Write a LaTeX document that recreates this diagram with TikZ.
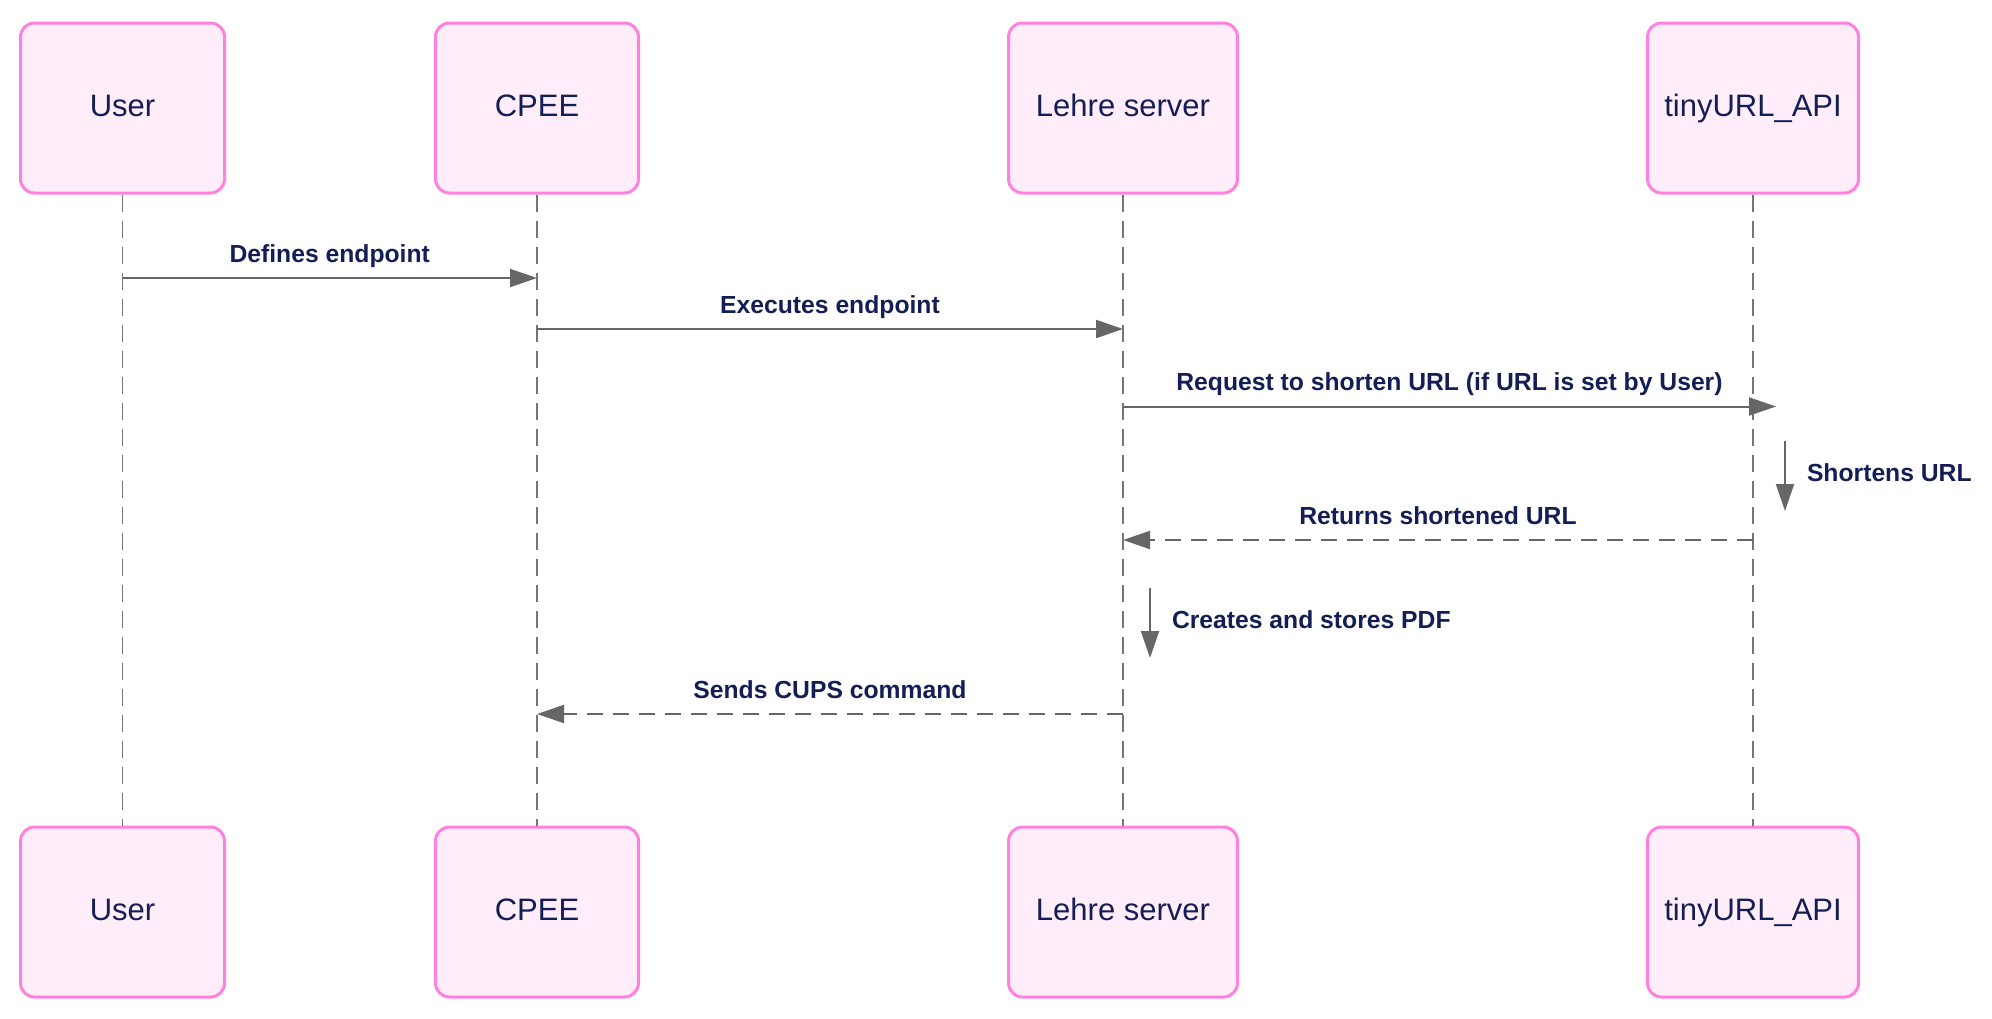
\documentclass[tikz,border=0pt]{standalone}
\usepackage{fontspec}
\setmainfont{Liberation Sans}
\usetikzlibrary{arrows.meta}
\definecolor{actorfill}{RGB}{255,238,249}
\definecolor{actorline}{RGB}{255,128,223}
\definecolor{msgtext}{RGB}{19,30,86}
\definecolor{msgline}{RGB}{102,102,102}

\begin{document}
\begin{tikzpicture}[x=1pt, y=-1pt,
    actor/.style={draw=actorline, fill=actorfill, line width=3pt, rounded corners=14pt,
      minimum height=170pt, text height=22pt, text depth=5pt, text=msgtext,
      font=\fontsize{31}{37}\selectfont},
    lifeline/.style={draw=msgline!90, line width=1.5pt, dash pattern=on 17pt off 9pt},
    msg/.style={draw=msgline, line width=2pt, -{Triangle[length=27pt, width=18pt]}},
    reply/.style={msg, dash pattern=on 16pt off 10pt},
    msglabel/.style={text=msgtext, inner sep=0pt, font=\bfseries\fontsize{24.7}{30}\selectfont}]
  \useasboundingbox (0,0) rectangle (1992,1018);
  % actors
  \node [actor, minimum width=204pt] (user) at (122.5,108) {User};
  \node [actor, minimum width=203pt] (cpee) at (537,108) {CPEE};
  \node [actor, minimum width=229pt] (lehre) at (1123,108) {Lehre server};
  \node [actor, minimum width=211pt] (tiny) at (1753,108) {tinyURL\_API};
  \node [actor, minimum width=204pt] (user2) at (122.5,912) {User};
  \node [actor, minimum width=203pt] (cpee2) at (537,912) {CPEE};
  \node [actor, minimum width=229pt] (lehre2) at (1123,912) {Lehre server};
  \node [actor, minimum width=211pt] (tiny2) at (1753,912) {tinyURL\_API};
  \draw [lifeline] (user) -- (user2);
  \draw [lifeline] (cpee) -- (cpee2);
  \draw [lifeline] (lehre) -- (lehre2);
  \draw [lifeline] (tiny) -- (tiny2);
  % message rows
  \coordinate (r1) at (0,278);
  \coordinate (r2) at (0,329);
  \coordinate (r3) at (0,406.5);
  \coordinate (r5) at (0,540);
  \coordinate (r7) at (0,714);
  \coordinate (shortA) at (1785,441);
  \coordinate (shortB) at (1785,511);
  \coordinate (pdfA) at (1150,588);
  \coordinate (pdfB) at (1150,658);
  \draw [msg] (user |- r1) -- (cpee |- r1) node [msglabel, midway, anchor=base, yshift=16pt] {Defines endpoint};
  \draw [msg] (cpee |- r2) -- (lehre |- r2) node [msglabel, midway, anchor=base, yshift=16pt] {Executes endpoint};
  \draw [msg] (lehre |- r3) -- ([xshift=23pt]tiny |- r3) node [msglabel, midway, anchor=base, yshift=16pt] {Request to shorten URL (if URL is set by User)};
  \draw [msg] (shortA) -- (shortB) node [msglabel, midway, anchor=west, xshift=21pt, yshift=3pt] {Shortens URL};
  \draw [reply] (tiny |- r5) -- (lehre |- r5) node [msglabel, midway, anchor=base, yshift=16pt] {Returns shortened URL};
  \draw [msg] (pdfA) -- (pdfB) node [msglabel, midway, anchor=west, xshift=21pt, yshift=3pt] {Creates and stores PDF};
  \draw [reply] (lehre |- r7) -- (cpee |- r7) node [msglabel, midway, anchor=base, yshift=16pt] {Sends CUPS command};
\end{tikzpicture}
\end{document}
